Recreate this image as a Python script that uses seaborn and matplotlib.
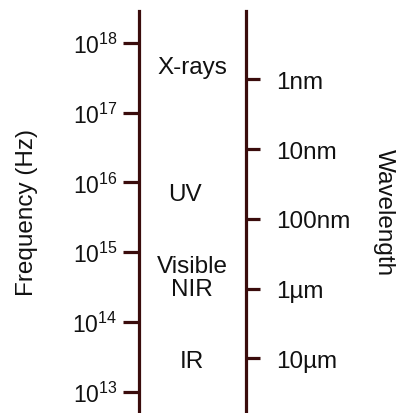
import numpy as np
import matplotlib
matplotlib.use("Agg")
import matplotlib.pyplot as plt
import matplotlib.ticker as mticker
import seaborn as sns

# ---- data ----
freq_exponents = [13, 14, 15, 16, 17, 18]
wavelength_labels = ["1nm", "10nm", "100nm", "1µm", "10µm"]
wavelength_m = [1e-9, 1e-8, 1e-7, 1e-6, 1e-5]
band_names = ["X-rays", "UV", "Visible\nNIR", "IR"]
band_freq = [10**17.656, 10**15.835, 10**14.64, 10**13.44]
band_xfrac = [0.495, 0.43, 0.495, 0.495]
c_light = 3e8

sns.set_style("white")
plt.rcParams['font.family'] = ['Liberation Sans', 'DejaVu Sans']
plt.rcParams['mathtext.fontset'] = 'custom'
plt.rcParams['mathtext.rm'] = 'Liberation Sans'
plt.rcParams['mathtext.it'] = 'Liberation Sans'

line_col = "#3a0c0c"
txt_col = "#111111"
fs = 17.5

fig = plt.figure(figsize=(4.01, 4.14), dpi=100)
ax = fig.add_axes([139/401, 0.0, (246-139)/401, 1 - 12/414])
ax.set_yscale("log")
ax.set_ylim(10**12.695, 10**18.459)
ax.set_xlim(0, 1)

for s in ["top", "bottom"]:
    ax.spines[s].set_visible(False)
for s in ["left", "right"]:
    ax.spines[s].set_color(line_col)
    ax.spines[s].set_linewidth(2.3)
ax.set_xticks([])

ax.yaxis.set_major_locator(mticker.FixedLocator([10.0**e for e in freq_exponents]))
ax.yaxis.set_minor_locator(mticker.NullLocator())
ax.set_yticklabels([rf"$\mathregular{{10^{{{e}}}}}$" for e in freq_exponents])
ax.tick_params(axis="y", which="major", direction="out", length=11.5, width=2.3,
               color=line_col, labelsize=16.5, labelcolor=txt_col, pad=4,
               left=True, right=False, labelleft=True, labelright=False)
ax.yaxis.get_major_ticks()[0].tick1line.set_visible(False)
ax.set_ylabel("Frequency (Hz)", fontsize=fs, color=txt_col, labelpad=25)

ax2 = ax.twinx()
ax2.set_yscale("log")
ax2.set_ylim(ax.get_ylim())
for s in ["top", "bottom", "left", "right"]:
    ax2.spines[s].set_visible(False)
ax2.yaxis.set_major_locator(mticker.FixedLocator([c_light / w for w in wavelength_m]))
ax2.yaxis.set_minor_locator(mticker.NullLocator())
ax2.set_yticklabels(wavelength_labels)
ax2.tick_params(axis="y", which="major", direction="out", length=10, width=2.3,
                color=line_col, labelsize=fs, labelcolor=txt_col, pad=12)
ax2.set_ylabel("Wavelength", fontsize=fs, color=txt_col, rotation=270, labelpad=32)

for name, f, xf in zip(band_names, band_freq, band_xfrac):
    ax.text(xf, f, name, transform=ax.get_yaxis_transform(), ha="center", va="center",
            fontsize=fs, color=txt_col, linespacing=1.05)

fig.savefig("out.png", dpi=100)
